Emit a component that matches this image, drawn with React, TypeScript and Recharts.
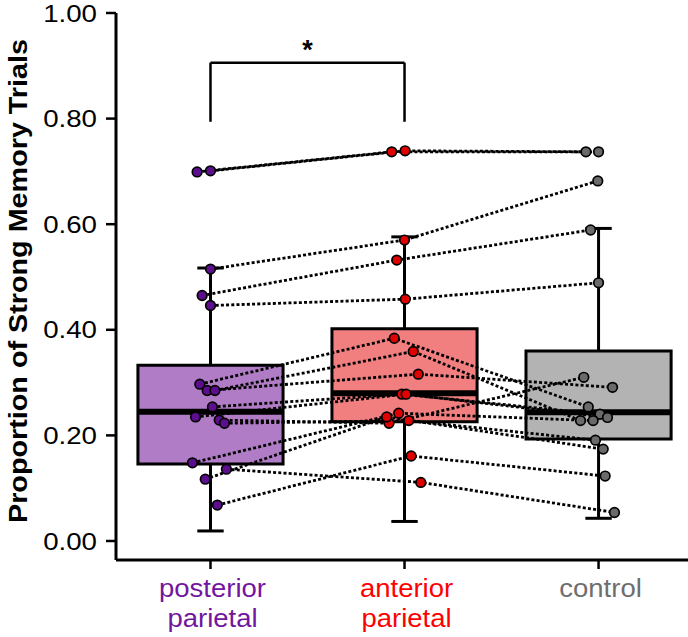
import React from 'react';
import {
  ComposedChart,
  XAxis,
  YAxis,
  Line,
  Scatter,
  ReferenceArea,
  ReferenceLine,
  ReferenceDot,
} from 'recharts';

// groups along the x axis
const CATEGORIES = ['posterior parietal', 'anterior parietal', 'control'];
const CATEGORY_LINES = [['posterior', 'parietal'], ['anterior', 'parietal'], ['control']];
const LABEL_COLORS = ['#7216a0', '#ff0000', '#6e6e6e'];
const BOX_COLORS = ['#b07cc6', '#f17f80', '#b3b3b3'];
const DOT_COLORS = ['#5c0e8e', '#e00000', '#6a6a6a'];

const Y_TICKS = [0, 0.2, 0.4, 0.6, 0.8, 1.0];

// per-subject proportions (same subject order in all three arrays)
const posterior = [0.699, 0.701, 0.515, 0.465, 0.446, 0.297, 0.285, 0.285, 0.254, 0.235, 0.229, 0.223, 0.148, 0.136, 0.117, 0.068];
const anterior = [0.737, 0.739, 0.570, 0.532, 0.458, 0.384, 0.316, 0.359, 0.278, 0.278, 0.223, 0.228, 0.242, 0.111, 0.235, 0.161];
const control = [0.737, 0.737, 0.682, 0.589, 0.489, 0.254, 0.291, 0.228, 0.240, 0.234, 0.310, 0.191, 0.228, 0.054, 0.174, 0.123];

// horizontal jitter of each dot, in category units
const posteriorJitter = [-0.069, 0, 0, -0.043, 0, -0.055, -0.017, 0.023, 0.010, -0.077, 0.045, 0.072, -0.093, 0.082, -0.027, 0.035];
const anteriorJitter = [-0.066, 0.003, 0, -0.040, 0.004, -0.053, 0.071, 0.045, -0.014, 0.008, -0.080, 0.022, -0.030, 0.084, -0.092, 0.034];
const controlJitter = [-0.065, 0, -0.004, -0.041, 0, -0.053, 0.072, -0.093, 0.007, 0.046, -0.076, -0.016, -0.028, 0.082, 0.024, 0.034];

// box plot summaries per group
const boxQ1 = [0.146, 0.226, 0.193];
const boxMedian = [0.245, 0.280, 0.244];
const boxQ3 = [0.333, 0.402, 0.360];
const whiskerLow = [0.019, 0.037, 0.043];
const whiskerHigh = [0.517, 0.576, 0.592];

// significance bracket between group 1 and 2
const BRACKET = { from: 1, to: 2, top: 0.906, legEnd: 0.794, text: '*' };

const BOX_HALF = 0.374;
const CAP_HALF = 0.068;

const groups = [posterior, anterior, control];
const jitters = [posteriorJitter, anteriorJitter, controlJitter];

const subjects = posterior.map((_, i) =>
  groups.map((g, k) => ({ x: k + 1 + jitters[k][i], y: g[i] }))
);
const dotsByGroup = groups.map((g, k) => g.map((v, i) => ({ x: k + 1 + jitters[k][i], y: v })));

const FONT = '"Liberation Sans", Arial, Helvetica, sans-serif';

const YTick = (props: any) => {
  const { x, y, payload } = props;
  return (
    <g transform={`translate(${x},${y})`}>
      <text
        transform="scale(1.13,1)"
        textAnchor="end"
        dy={8.5}
        fontSize={24.5}
        fontFamily={FONT}
        fill="#000"
      >
        {Number(payload.value).toFixed(2)}
      </text>
    </g>
  );
};

const XTick = (props: any) => {
  const { x, y, payload } = props;
  const idx = Math.round(payload.value) - 1;
  const lines = CATEGORY_LINES[idx] || [];
  return (
    <g transform={`translate(${x + 2},${y})`}>
      <text
        transform="scale(1.1,1)"
        textAnchor="middle"
        fontSize={25}
        fontFamily={FONT}
        fill={LABEL_COLORS[idx]}
      >
        {lines.map((l, i) => (
          <tspan key={l + i} x={0} dy={i === 0 ? 26 : 30}>
            {l}
          </tspan>
        ))}
      </text>
    </g>
  );
};

const App: React.FC = () => {
  return (
    <div style={{ position: 'absolute', left: 0, top: 0, width: 688, height: 637, background: '#fff' }}>
      <ComposedChart width={688} height={637} margin={{ top: 13, right: 0, bottom: 0, left: 56 }}>
        <XAxis
          type="number"
          dataKey="x"
          domain={[0.513, 3.461]}
          allowDataOverflow
          ticks={[1, 2, 3]}
          tick={<XTick />}
          tickSize={9}
          height={77}
          axisLine={{ stroke: '#000', strokeWidth: 3 }}
          tickLine={{ stroke: '#000', strokeWidth: 2.5 }}
        />
        <YAxis
          type="number"
          domain={[-0.036, 1.0]}
          allowDataOverflow
          ticks={Y_TICKS}
          tick={<YTick />}
          tickSize={10}
          tickMargin={9}
          width={60}
          axisLine={{ stroke: '#000', strokeWidth: 3 }}
          tickLine={{ stroke: '#000', strokeWidth: 2.5 }}
          label={() => (
            <text
              transform="translate(27,281) rotate(-90)"
              textAnchor="middle"
              fontSize={26.5}
              fontWeight="bold"
              fontFamily={FONT}
              fill="#000"
              textLength={484}
              lengthAdjust="spacingAndGlyphs"
            >
              Proportion of Strong Memory Trials
            </text>
          )}
        />

        {CATEGORIES.map((c, k) => (
          <ReferenceArea
            key={`box-${c}`}
            x1={k + 1 - BOX_HALF}
            x2={k + 1 + BOX_HALF}
            y1={boxQ1[k]}
            y2={boxQ3[k]}
            fill={BOX_COLORS[k]}
            fillOpacity={1}
            stroke="#000"
            strokeWidth={3}
          />
        ))}

        {CATEGORIES.map((c, k) => (
          <ReferenceLine
            key={`wu-${c}`}
            segment={[{ x: k + 1, y: boxQ3[k] }, { x: k + 1, y: whiskerHigh[k] }]}
            stroke="#000"
            strokeWidth={3}
          />
        ))}
        {CATEGORIES.map((c, k) => (
          <ReferenceLine
            key={`wl-${c}`}
            segment={[{ x: k + 1, y: boxQ1[k] }, { x: k + 1, y: whiskerLow[k] }]}
            stroke="#000"
            strokeWidth={3}
          />
        ))}
        {CATEGORIES.map((c, k) => (
          <ReferenceLine
            key={`cu-${c}`}
            segment={[{ x: k + 1 - CAP_HALF, y: whiskerHigh[k] }, { x: k + 1 + CAP_HALF, y: whiskerHigh[k] }]}
            stroke="#000"
            strokeWidth={3}
          />
        ))}
        {CATEGORIES.map((c, k) => (
          <ReferenceLine
            key={`cl-${c}`}
            segment={[{ x: k + 1 - CAP_HALF, y: whiskerLow[k] }, { x: k + 1 + CAP_HALF, y: whiskerLow[k] }]}
            stroke="#000"
            strokeWidth={3}
          />
        ))}

        {subjects.map((pts, i) => (
          <Line
            key={`subj-${i}`}
            data={pts}
            dataKey="y"
            type="linear"
            stroke="#000"
            strokeWidth={2.8}
            strokeDasharray="3 2.2"
            dot={false}
            activeDot={false}
            isAnimationActive={false}
          />
        ))}

        {CATEGORIES.map((c, k) => (
          <ReferenceLine
            key={`med-${c}`}
            segment={[{ x: k + 1 - BOX_HALF, y: boxMedian[k] }, { x: k + 1 + BOX_HALF, y: boxMedian[k] }]}
            stroke="#000"
            strokeWidth={6}
          />
        ))}

        {dotsByGroup.map((pts, k) => (
          <Scatter
            key={`dots-${k}`}
            data={pts}
            dataKey="y"
            isAnimationActive={false}
            shape={(p: any) => (
              <circle cx={p.cx} cy={p.cy} r={4.8} fill={DOT_COLORS[k]} stroke="#000" strokeWidth={1.7} />
            )}
          />
        ))}

        <ReferenceLine
          segment={[{ x: BRACKET.from, y: BRACKET.top }, { x: BRACKET.to, y: BRACKET.top }]}
          stroke="#000"
          strokeWidth={2.5}
        />
        <ReferenceLine
          segment={[{ x: BRACKET.from, y: BRACKET.top }, { x: BRACKET.from, y: BRACKET.legEnd }]}
          stroke="#000"
          strokeWidth={2.5}
        />
        <ReferenceLine
          segment={[{ x: BRACKET.to, y: BRACKET.top }, { x: BRACKET.to, y: BRACKET.legEnd }]}
          stroke="#000"
          strokeWidth={2.5}
        />
        <ReferenceDot
          x={(BRACKET.from + BRACKET.to) / 2}
          y={BRACKET.top}
          r={0}
          fill="none"
          stroke="none"
          label={(p: any) => {
            const vb = p.viewBox || {};
            const cx = (vb.x ?? 0) + (vb.width ?? 0) / 2;
            const cy = vb.y ?? 0;
            return (
              <text x={cx} y={cy - 4} textAnchor="middle" fontSize={27} fontWeight="bold" fontFamily={FONT} fill="#000">
                {BRACKET.text}
              </text>
            );
          }}
        />
      </ComposedChart>
    </div>
  );
};

export default App;
